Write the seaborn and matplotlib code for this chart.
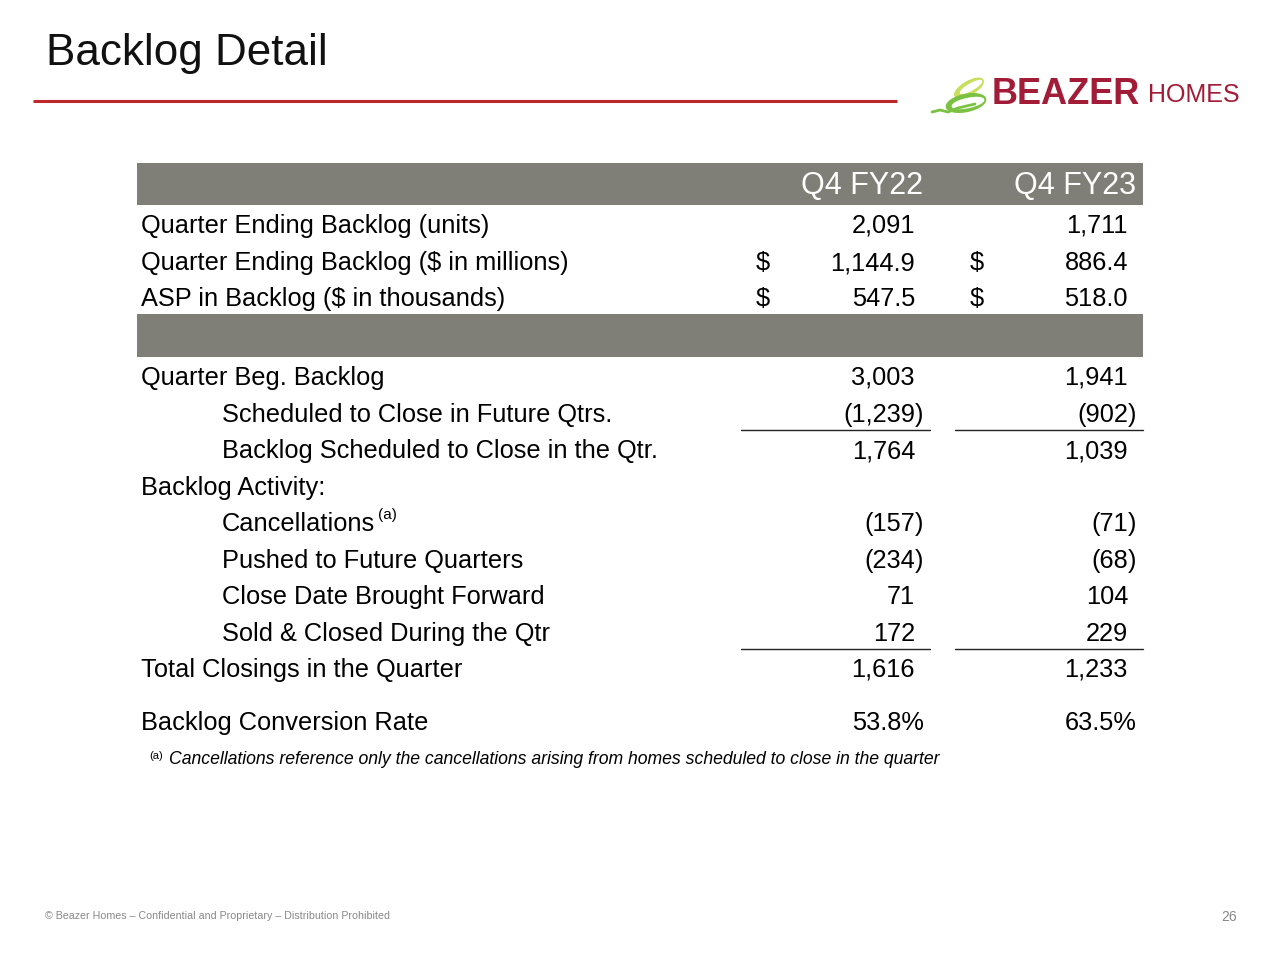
import seaborn as sns
import matplotlib.pyplot as plt
from matplotlib.patches import Rectangle, Ellipse

# table content
col_heads = ['Q4 FY22', 'Q4 FY23']

top_labels = ['Quarter Ending Backlog (units)',
              'Quarter Ending Backlog ($ in millions)',
              'ASP in Backlog ($ in thousands)']
top_fy22 = [2091, 1144.9, 547.5]
top_fy23 = [1711, 886.4, 518.0]
top_kind = ['int', 'usd', 'usd']

act_labels = ['Quarter Beg. Backlog',
              'Scheduled to Close in Future Qtrs.',
              'Backlog Scheduled to Close in the Qtr.',
              'Backlog Activity:',
              'Cancellations',
              'Pushed to Future Quarters',
              'Close Date Brought Forward',
              'Sold & Closed During the Qtr',
              'Total Closings in the Quarter',
              'Backlog Conversion Rate']
act_indent = [0, 1, 1, 0, 1, 1, 1, 1, 0, 0]
act_fy22 = [3003, -1239, 1764, None, -157, -234, 71, 172, 1616, 53.8]
act_fy23 = [1941, -902, 1039, None, -71, -68, 104, 229, 1233, 63.5]
act_kind = ['int'] * 9 + ['pct']

footnote = 'Cancellations reference only the cancellations arising from homes scheduled to close in the quarter'
footer = '\u00a9 Beazer Homes \u2013 Confidential and Proprietary \u2013 Distribution Prohibited'
page_no = '26'

sns.set_theme(style='white')
plt.rcParams['font.family'] = ['Liberation Sans', 'DejaVu Sans']
plt.rcParams['text.color'] = 'black'

GREY = '#7f7f77'
RED = '#c0272d'
DARKRED = '#a31c37'

fig = plt.figure(figsize=(12.8, 9.6), dpi=100)
ax = fig.add_axes([0, 0, 1, 1])
ax.set_xlim(0, 1280)
ax.set_ylim(960, 0)
ax.axis('off')

# title + rule
ax.text(46, 54, 'Backlog Detail', fontsize=31.7, va='center', ha='left', color='#111111')
ax.plot([33, 897], [101, 101], color=RED, lw=2.2, solid_capstyle='butt')

# logo: two leaves and a curly stem
ax.add_patch(Ellipse((969, 88), 32, 13, angle=-30, color='#c8df5c'))
ax.add_patch(Ellipse((971, 87), 24, 6, angle=-30, color='white'))
ax.add_patch(Ellipse((966, 103), 40, 17, angle=-12, color='#7cc242'))
ax.add_patch(Ellipse((968, 103), 32, 9, angle=-12, color='white'))
ax.plot([932, 940, 948, 958, 975], [112, 110, 112, 108, 104], color='#7cc242', lw=2)
ax.text(992, 95, 'BEAZER', fontsize=26, fontweight='bold', color=DARKRED,
        va='center', ha='left')
ax.text(1148, 95, 'HOMES', fontsize=18, color=DARKRED, va='center', ha='left')

# header bars
ax.add_patch(Rectangle((137, 163), 1006, 42, color=GREY, lw=0))
ax.add_patch(Rectangle((137, 314), 1006, 43, color=GREY, lw=0))
num_right = [915, 1128]
dollar_x = [763, 977]
for x, h in zip(num_right, col_heads):
    ax.text(x + 8, 186, h, fontsize=22, color='white', ha='right', va='center')

FS = 18.3


def draw_value(x, y, v, kind):
    if v is None:
        return
    if kind == 'pct':
        ax.text(x + 9, y, f'{v:.1f}%', fontsize=FS, ha='right', va='center')
    elif kind == 'usd':
        ax.text(x, y, f'{v:,.1f}', fontsize=FS, ha='right', va='center')
    elif v < 0:
        ax.text(x, y, f'({-v:,}', fontsize=FS, ha='right', va='center')
        ax.text(x, y, ')', fontsize=FS, ha='left', va='center')
    else:
        ax.text(x, y, f'{v:,}', fontsize=FS, ha='right', va='center')


top_y = [226, 263, 299]
for y, lab, a, b, k in zip(top_y, top_labels, top_fy22, top_fy23, top_kind):
    ax.text(141, y, lab, fontsize=FS, ha='left', va='center')
    for x, dx, v in zip(num_right, dollar_x, [a, b]):
        if k == 'usd':
            ax.text(dx, y, '$', fontsize=FS, ha='center', va='center')
        draw_value(x, y, v, k)

act_y = [378, 415, 451, 488, 524, 561, 597, 634, 670, 723]
for y, lab, ind, a, b, k in zip(act_y, act_labels, act_indent, act_fy22, act_fy23, act_kind):
    ax.text(222 if ind else 141, y, lab, fontsize=FS, ha='left', va='center')
    if lab == 'Cancellations':
        ax.text(378, y - 9, '(a)', fontsize=11, ha='left', va='center')
    for x, v in zip(num_right, [a, b]):
        draw_value(x, y, v, k)

# subtotal rules
for ly in [430, 649]:
    ax.plot([741, 930], [ly, ly], color='#222222', lw=1)
    ax.plot([955, 1143], [ly, ly], color='#222222', lw=1)

# footnote
ax.text(149, 756, '(a)', fontsize=8, ha='left', va='center')
ax.text(169, 759, footnote, fontsize=12.7, style='italic', ha='left', va='center')

# footer
ax.text(45, 916, footer, fontsize=7.7, color='#888888', ha='left', va='center')
ax.text(1237, 917, page_no, fontsize=10, color='#888888', ha='right', va='center')

fig.savefig('out.png', dpi=100, facecolor='white')
